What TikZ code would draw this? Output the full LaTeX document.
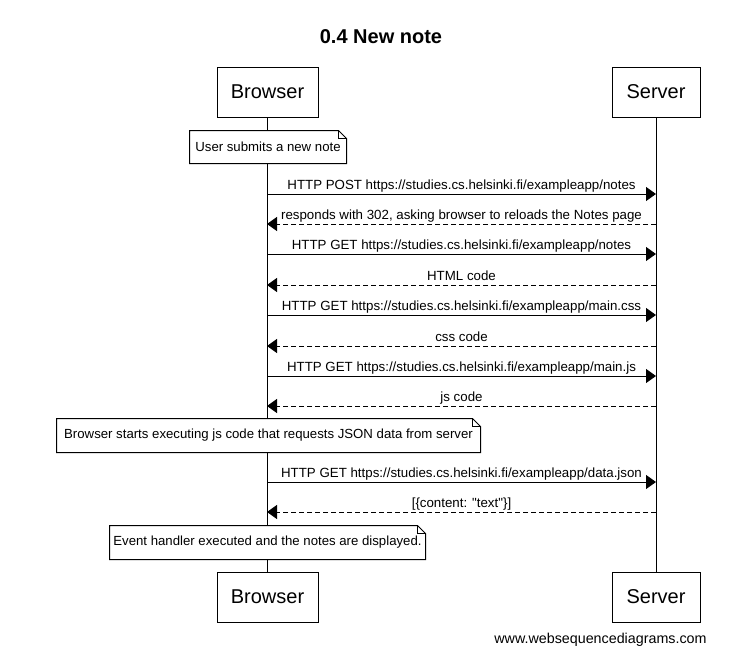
\documentclass[tikz,border=0pt]{standalone}
\usepackage{fontspec}
\setmainfont{Liberation Sans}
\newfontfamily\rawfont{Liberation Sans}
\usetikzlibrary{arrows.meta}
\begin{document}
\begin{tikzpicture}[x=1pt,y=-1pt,line width=1pt,
  actor/.style={draw,fill=white,minimum height=50pt,inner sep=0pt,font=\fontsize{20}{24}\selectfont},
  notebox/.style={fill=white,inner sep=0pt,font=\fontsize{13.2}{15}\selectfont},
  msgtext/.style={anchor=base,inner sep=0pt,font=\fontsize{13.3}{15}\selectfont},
  msg/.style={-{Triangle[length=10pt,width=14pt]}},
  reply/.style={msg,dash pattern=on 5pt off 3pt},
  lifeline/.style={line width=1pt}]
\useasboundingbox[fill=white] (0,0) rectangle (739,667);
\node[font=\bfseries\fontsize{20}{24}\selectfont] (title) at (381,37) {0.4 New note};
% actors
\node[actor,minimum width=101pt] (bt) at (267.5,92) {Browser};
\node[actor,minimum width=88pt] (st) at (656,92) {Server};
\node[actor,minimum width=101pt] (bb) at (267.5,597) {Browser};
\node[actor,minimum width=88pt] (sb) at (656,597) {Server};
\draw[lifeline] (bt.south) -- (bb.north);
\draw[lifeline] (st.south) -- (sb.north);
% coordinates on lifelines
\foreach \n/\y in {1/194,2/224,3/254,4/285,5/315,6/346,7/376,8/406,9/482,10/512}{
  \coordinate (b\n) at (267,\y);
  \coordinate (s\n) at (656,\y);
  \coordinate (m\n) at (461.5,\y-4.5);
}
% notes
\newcommand{\foldnote}[1]{%
  \draw[fill=white] (#1.north west) -- ([xshift=-8pt]#1.north east) -- ([yshift=-8pt]#1.north east) -- (#1.south east) -- (#1.south west) -- cycle;
  \draw ([xshift=-8pt]#1.north east) -- ([xshift=-8pt,yshift=-8pt]#1.north east) -- ([yshift=-8pt]#1.north east);
  \node[font=\fontsize{13.2}{15}\selectfont] at (#1.center) {\csname notetext#1\endcsname};}
\node[notebox,minimum width=156pt,minimum height=32pt] (na) at (268,147) {};
\def\notetextna{User submits a new note}
\foldnote{na}
% messages
\draw[msg] (b1) -- (s1);
\node[msgtext] (t1) at (m1) {HTTP POST https://studies.cs.helsinki.fi/exampleapp/notes};
\draw[reply] (s2) -- (b2);
\node[msgtext] (t2) at (m2) {responds with 302, asking browser to reloads the Notes page};
\draw[msg] (b3) -- (s3);
\node[msgtext] (t3) at (m3) {HTTP GET https://studies.cs.helsinki.fi/exampleapp/notes};
\draw[reply] (s4) -- (b4);
\node[msgtext] (t4) at (m4) {HTML code};
\draw[msg] (b5) -- (s5);
\node[msgtext] (t5) at (m5) {HTTP GET https://studies.cs.helsinki.fi/exampleapp/main.css};
\draw[reply] (s6) -- (b6);
\node[msgtext] (t6) at (m6) {css code};
\draw[msg] (b7) -- (s7);
\node[msgtext] (t7) at (m7) {HTTP GET https://studies.cs.helsinki.fi/exampleapp/main.js};
\draw[reply] (s8) -- (b8);
\node[msgtext] (t8) at (m8) {js code};
\node[notebox,minimum width=423pt,minimum height=33pt] (nb) at (268.5,435.5) {};
\def\notetextnb{Browser starts executing js code that requests JSON data from server}
\foldnote{nb}
\draw[msg] (b9) -- (s9);
\node[msgtext] (t9) at (m9) {HTTP GET https://studies.cs.helsinki.fi/exampleapp/data.json};
\draw[reply] (s10) -- (b10);
\node[msgtext] (t10) at (m10) {\rawfont [\{content: "text"\}]};
\node[notebox,minimum width=315pt,minimum height=33pt] (nc) at (267.5,542.5) {};
\def\notetextnc{Event handler executed and the notes are displayed.}
\foldnote{nc}
\node[font=\fontsize{14.3}{17}\selectfont] (footer) at (600.5,640) {www.websequencediagrams.com};
\end{tikzpicture}
\end{document}
